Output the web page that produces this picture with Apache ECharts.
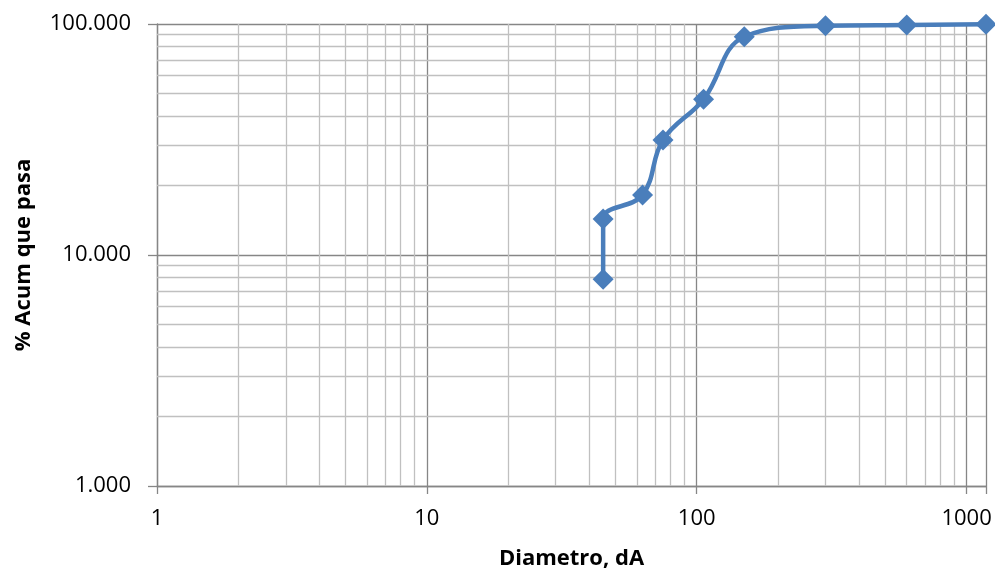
<!DOCTYPE html>
<html>
<head>
<meta charset="utf-8">
<script src="https://cdn.jsdelivr.net/npm/echarts@6/dist/echarts.min.js"></script>
<style>html,body{margin:0;padding:0;background:#fff}#c{width:995px;height:577px}</style>
</head>
<body>
<div id="c"></div>
<script>
// Data
const diametro = [45, 45, 63, 75, 106, 150, 300, 600, 1180];
const acumPasa = [7.85, 14.3, 18.2, 31.5, 47.2, 88.1, 98.3, 99.0, 99.7];
const xMajorTicks = [1, 10, 100, 1000];
const yMajorTicks = [1, 10, 100];
const xMinorGrid = [2,3,4,5,6,7,8,9,20,30,40,50,60,70,80,90,200,300,400,500,600,700,800,900];
const yMinorGrid = [2,3,4,5,6,7,8,9,20,30,40,50,60,70,80,90];
const xName = 'Diametro, dA';
const yName = '% Acum que pasa';

const FONT = '"Open Sans", "Noto Sans", sans-serif';
const chart = echarts.init(document.getElementById('c'), null, {renderer: 'canvas'});

const minorLines = []
  .concat(xMinorGrid.map(v => ({xAxis: v})))
  .concat(yMinorGrid.map(v => ({yAxis: v})));

chart.setOption({
  animation: false,
  backgroundColor: '#ffffff',
  grid: {left: 157, right: 9, top: 24, bottom: 91, containLabel: false},
  xAxis: {
    type: 'log', logBase: 10, min: 1, max: 1180,
    name: xName, nameLocation: 'middle', nameGap: 62,
    nameTextStyle: {fontFamily: FONT, fontSize: 22, fontWeight: 'bold', color: '#000'},
    axisLine: {show: true, lineStyle: {color: '#868686', width: 1.3}},
    axisTick: {show: true, inside: false, length: 8, lineStyle: {color: '#868686', width: 1.3}},
    axisLabel: {
      fontFamily: FONT, fontSize: 22, color: '#000', margin: 22,
      formatter: v => xMajorTicks.some(t => Math.abs(t - v) < 1e-6) ? String(Math.round(v)) : ''
    },
    splitLine: {show: true, lineStyle: {color: '#868686', width: 1.3}}
  },
  yAxis: {
    type: 'log', logBase: 10, min: 1, max: 100,
    name: yName, nameLocation: 'middle', nameGap: 122, nameRotate: 90,
    nameTextStyle: {fontFamily: FONT, fontSize: 22, fontWeight: 'bold', color: '#000'},
    axisLine: {show: true, lineStyle: {color: '#868686', width: 1.3}},
    axisTick: {show: true, inside: false, length: 9, lineStyle: {color: '#868686', width: 1.3}},
    axisLabel: {
      fontFamily: FONT, fontSize: 22, color: '#000', margin: 26,
      formatter: v => yMajorTicks.some(t => Math.abs(t - v) < 1e-6) ? v.toFixed(3) : ''
    },
    splitLine: {show: true, lineStyle: {color: '#868686', width: 1.3}}
  },
  series: [
    {
      name: 'minor-grid', type: 'line', data: [], z: 1, silent: true,
      markLine: {
        silent: true, symbol: 'none', animation: false,
        label: {show: false},
        lineStyle: {color: '#c0c0c0', width: 1.3, type: 'solid'},
        emphasis: {disabled: true},
        data: minorLines
      }
    },
    {
      name: yName, type: 'line', z: 5,
      data: diametro.map((d, i) => [d, acumPasa[i]]),
      smooth: 0.4,
      symbol: 'diamond', symbolSize: 21,
      showAllSymbol: true,
      lineStyle: {color: '#4a7ebb', width: 4.5},
      itemStyle: {color: '#4a7ebb'}
    }
  ]
});
</script>
</body>
</html>
